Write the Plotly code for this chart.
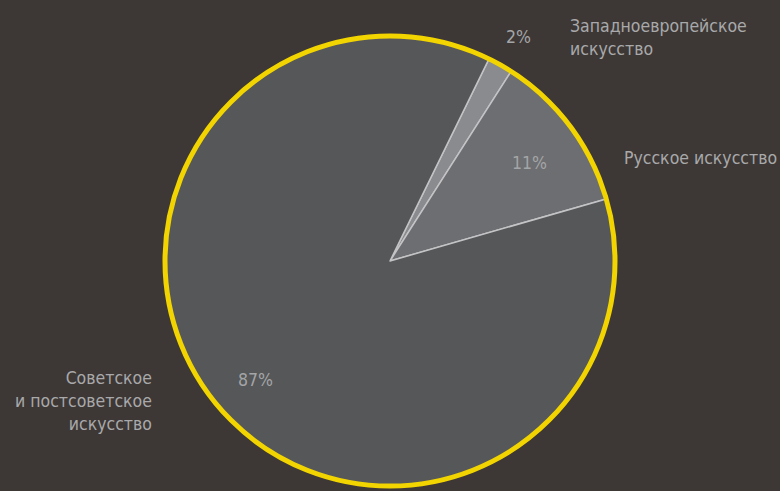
import plotly.graph_objects as go

categories = ["Западноевропейское<br>искусство", "Русское искусство", "Советское<br>и постсоветское<br>искусство"]
values = [1.8, 11.5, 86.7]
pct_labels = ["2%", "11%", "87%"]
slice_colors = ["#8a8b8e", "#6d6e71", "#555759"]

BG = "#3d3835"
TXT = "#a9a9ab"
FONT = "DejaVu Sans Condensed, Liberation Sans Narrow, Roboto, sans-serif"

fig = go.Figure()
fig.add_trace(go.Pie(
    labels=categories, values=values, sort=False, direction="clockwise",
    rotation=26.1, textinfo="none", hoverinfo="label+percent",
    marker=dict(colors=slice_colors, line=dict(color="#c4c4c6", width=1.5)),
    domain=dict(x=[0, 1], y=[0, 1]), showlegend=False,
))
fig.add_trace(go.Pie(
    labels=["ring"], values=[1], textinfo="none", hoverinfo="skip",
    marker=dict(colors=["rgba(0,0,0,0)"], line=dict(color="#f2d400", width=5)),
    domain=dict(x=[0, 1], y=[0, 1]), showlegend=False,
))

W, H = 780, 491
MT, MB = 36, 5
PH = H - MT - MB


def py(y):
    return (H - MB - y) / PH


lab_pos = [(568, 37, "left"), (622, 158, "left"), (154, 401, "right")]
pct_pos = [(518, 37), (529, 163), (255, 380)]
ann = []
for (x, y, al), t in zip(lab_pos, categories):
    ann.append(dict(x=x / W, y=py(y), xref="paper", yref="paper", text=t,
                    showarrow=False, xanchor=al, yanchor="middle", align=al,
                    font=dict(family=FONT, size=17.5, color=TXT)))
for (x, y), t in zip(pct_pos, pct_labels):
    ann.append(dict(x=x / W, y=py(y), xref="paper", yref="paper", text=t,
                    showarrow=False, xanchor="center", yanchor="middle",
                    font=dict(family=FONT, size=17.5, color="#a4a5a7")))

fig.update_layout(
    width=W, height=H, paper_bgcolor=BG, plot_bgcolor=BG,
    margin=dict(l=0, r=0, t=MT, b=MB), annotations=ann,
    font=dict(family=FONT, color=TXT),
)
fig.write_html("out.html", config={"displayModeBar": False},
               post_script="document.body.style.margin='0';document.body.style.background='%s';" % BG)
